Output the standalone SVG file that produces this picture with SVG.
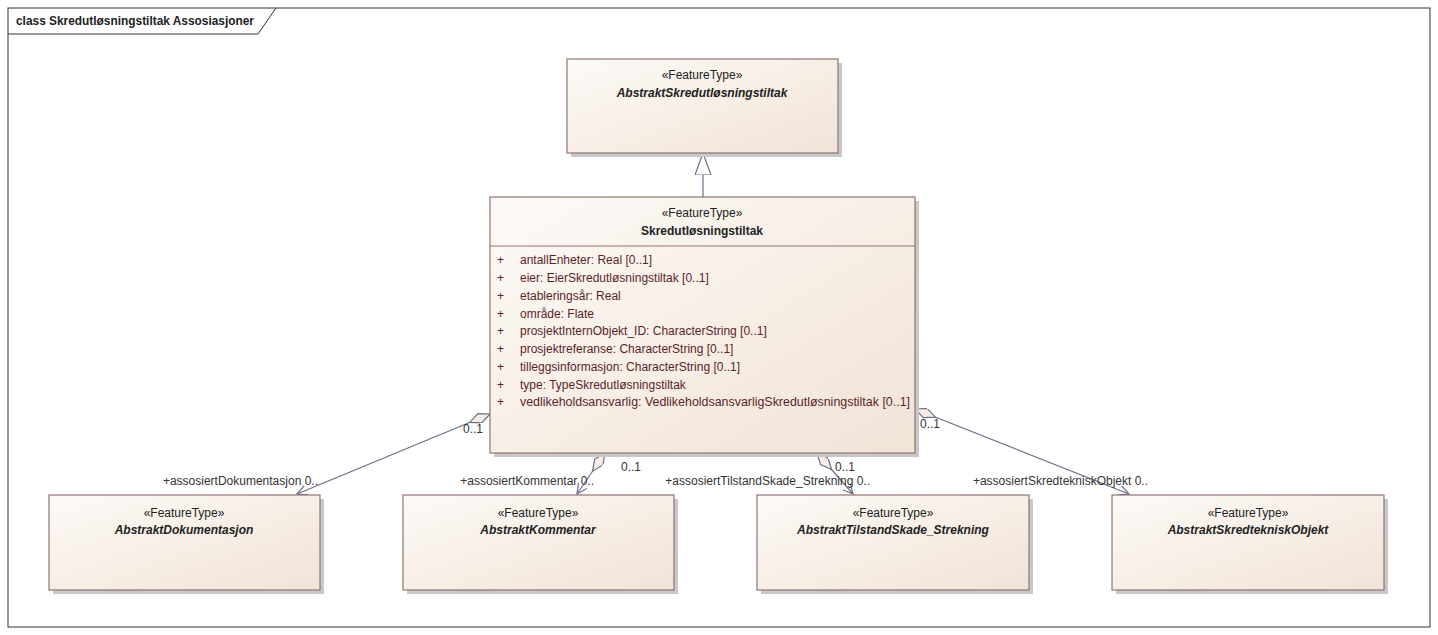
<svg xmlns="http://www.w3.org/2000/svg" width="1438" height="635" viewBox="0 0 1438 635">
<style>
text{font-family:"Liberation Sans",Arial,sans-serif;font-size:12px;fill:#222}
.box{fill:url(#g);stroke:#8f7474;stroke-width:1.2}
.sh{fill:#c8c8c8}
.st{text-anchor:middle}
.nm{text-anchor:middle;font-weight:bold;font-style:italic}
.nb{text-anchor:middle;font-weight:bold}
.at{fill:#5b1f2a}
.c{stroke:#6b6f86;stroke-width:1.2;fill:none}
.lb{fill:#333}
</style>
<defs>
<linearGradient id="g" x1="0" y1="0" x2="1" y2="1"><stop offset="0" stop-color="#fdfaf7"/><stop offset="1" stop-color="#f1e3d6"/></linearGradient>
<marker id="dia" markerUnits="userSpaceOnUse" markerWidth="24" markerHeight="12" refX="0" refY="5" orient="auto"><path d="M0,5 L11,0 L22,5 L11,10 z" fill="#f6ede6" stroke="#6b6f86" stroke-width="1.2"/></marker>
<marker id="arr" markerUnits="userSpaceOnUse" markerWidth="12" markerHeight="12" refX="10" refY="5" orient="auto"><path d="M0,0 L10,5 L0,10" fill="none" stroke="#6b6f86" stroke-width="1.2"/></marker>
<marker id="tri" markerUnits="userSpaceOnUse" markerWidth="24" markerHeight="18" refX="22" refY="8" orient="auto"><path d="M0,0 L22,8 L0,16 z" fill="#fff" stroke="#6b6f86" stroke-width="1.2"/></marker>
</defs>
<rect x="0" y="0" width="1438" height="635" fill="#fff"/>
<rect x="8" y="8" width="1422" height="619" fill="none" stroke="#333" stroke-width="1"/>
<path d="M8,34 L258,34 L276,8" fill="none" stroke="#333"/>
<text x="16" y="25" style="font-weight:bold;font-size:12.5px" textLength="238" lengthAdjust="spacingAndGlyphs">class Skredutløsningstiltak Assosiasjoner</text>

<g id="connectors">
<line class="c" x1="703" y1="197" x2="703" y2="153" marker-end="url(#tri)"/>
<line class="c" x1="490" y1="414" x2="297" y2="494" marker-start="url(#dia)" marker-end="url(#arr)"/>
<line class="c" x1="605" y1="453" x2="577" y2="494" marker-start="url(#dia)" marker-end="url(#arr)"/>
<line class="c" x1="817" y1="453" x2="853" y2="494" marker-start="url(#dia)" marker-end="url(#arr)"/>
<line class="c" x1="915" y1="409" x2="1129" y2="494" marker-start="url(#dia)" marker-end="url(#arr)"/>
<text class="lb" x="463" y="433">0..1</text>
<text class="lb" x="318" y="485" text-anchor="end">+assosiertDokumentasjon 0..</text>
<text class="lb" x="621" y="471">0..1</text>
<text class="lb" x="594" y="485" text-anchor="end">+assosiertKommentar 0..</text>
<text class="lb" x="835" y="471">0..1</text>
<text class="lb" x="870" y="485" text-anchor="end">+assosiertTilstandSkade_Strekning 0..</text>
<text class="lb" x="920" y="428">0..1</text>
<text class="lb" x="1148" y="485" text-anchor="end">+assosiertSkredtekniskObjekt  0..</text>
</g>

<g id="AbstraktSkredutlosningstiltak">
<rect class="sh" x="571" y="63" width="271" height="94"/>
<rect class="box" x="567" y="59" width="271" height="94"/>
<text class="st" x="702" y="79">«FeatureType»</text>
<text class="nm" x="702" y="97">AbstraktSkredutløsningstiltak</text>
</g>

<g id="Skredutlosningstiltak">
<rect class="sh" x="494" y="201" width="425" height="256"/>
<rect class="box" x="490" y="197" width="425" height="256"/>
<line x1="490" y1="246" x2="915" y2="246" stroke="#8f7474"/>
<text class="st" x="702" y="217">«FeatureType»</text>
<text class="nb" x="702" y="235">Skredutløsningstiltak</text>
<g class="at">
<text class="at" x="497" y="264">+</text><text class="at" x="520" y="264">antallEnheter: Real [0..1]</text>
<text class="at" x="497" y="282">+</text><text class="at" x="520" y="282">eier: EierSkredutløsningstiltak [0..1]</text>
<text class="at" x="497" y="300">+</text><text class="at" x="520" y="300">etableringsår: Real</text>
<text class="at" x="497" y="318">+</text><text class="at" x="520" y="318">område: Flate</text>
<text class="at" x="497" y="335">+</text><text class="at" x="520" y="335">prosjektInternObjekt_ID: CharacterString [0..1]</text>
<text class="at" x="497" y="353">+</text><text class="at" x="520" y="353">prosjektreferanse: CharacterString [0..1]</text>
<text class="at" x="497" y="371">+</text><text class="at" x="520" y="371">tilleggsinformasjon: CharacterString [0..1]</text>
<text class="at" x="497" y="389">+</text><text class="at" x="520" y="389">type: TypeSkredutløsningstiltak</text>
<text class="at" x="497" y="406">+</text><text class="at" x="520" y="406" textLength="390" lengthAdjust="spacingAndGlyphs">vedlikeholdsansvarlig: VedlikeholdsansvarligSkredutløsningstiltak [0..1]</text>
</g>
</g>

<g id="AbstraktDokumentasjon">
<rect class="sh" x="53" y="499" width="271" height="95"/>
<rect class="box" x="49" y="495" width="271" height="95"/>
<text class="st" x="184" y="517">«FeatureType»</text>
<text class="nm" x="184" y="534">AbstraktDokumentasjon</text>
</g>
<g id="AbstraktKommentar">
<rect class="sh" x="407" y="499" width="271" height="95"/>
<rect class="box" x="403" y="495" width="271" height="95"/>
<text class="st" x="538" y="517">«FeatureType»</text>
<text class="nm" x="538" y="534">AbstraktKommentar</text>
</g>
<g id="AbstraktTilstandSkade_Strekning">
<rect class="sh" x="761" y="499" width="272" height="95"/>
<rect class="box" x="757" y="495" width="272" height="95"/>
<text class="st" x="893" y="517">«FeatureType»</text>
<text class="nm" x="893" y="534">AbstraktTilstandSkade_Strekning</text>
</g>
<g id="AbstraktSkredtekniskObjekt">
<rect class="sh" x="1116" y="499" width="272" height="95"/>
<rect class="box" x="1112" y="495" width="272" height="95"/>
<text class="st" x="1248" y="517">«FeatureType»</text>
<text class="nm" x="1248" y="534">AbstraktSkredtekniskObjekt</text>
</g>
</svg>
